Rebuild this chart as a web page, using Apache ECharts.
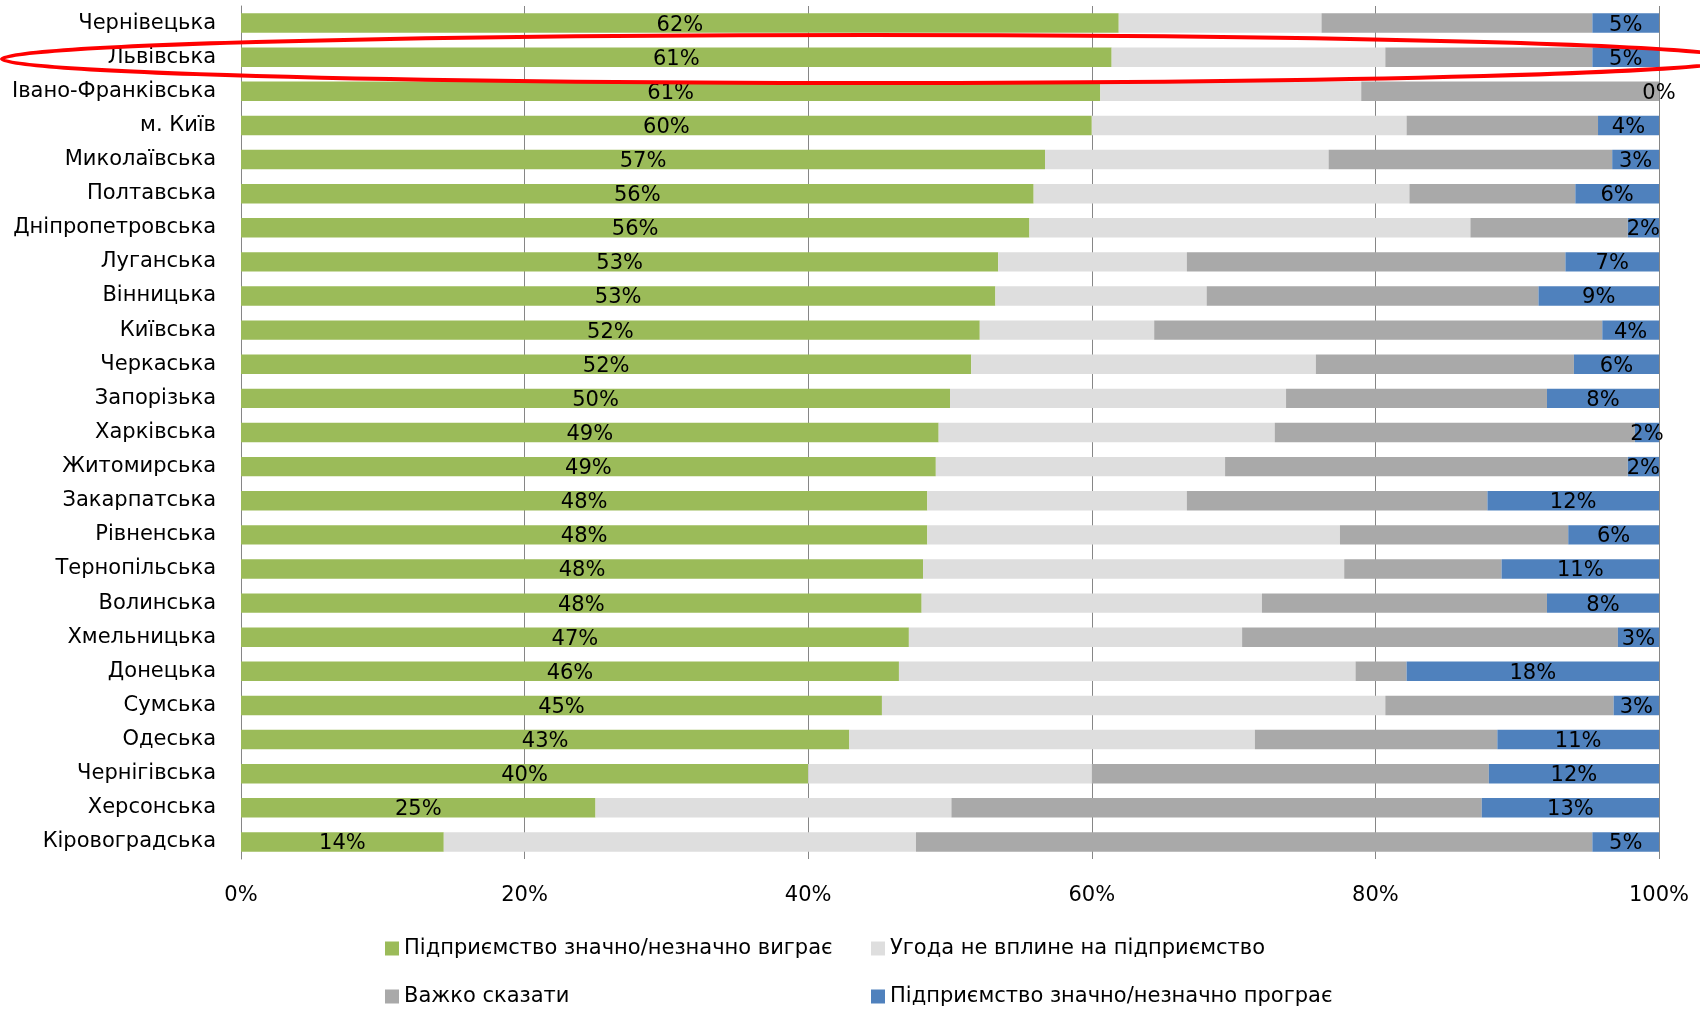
<!DOCTYPE html>
<html>
<head>
<meta charset="utf-8">
<script src="https://cdn.jsdelivr.net/npm/echarts@6/dist/echarts.min.js"></script>
<style>
  html, body { margin: 0; padding: 0; background: #fff; }
  #chart { width: 1700px; height: 1011px; }
</style>
</head>
<body>
<div id="chart"></div>
<script>
const regions = [
  "Чернівецька", "Львівська", "Івано-Франківська", "м. Київ", "Миколаївська",
  "Полтавська", "Дніпропетровська", "Луганська", "Вінницька", "Київська",
  "Черкаська", "Запорізька", "Харківська", "Житомирська", "Закарпатська",
  "Рівненська", "Тернопільська", "Волинська", "Хмельницька", "Донецька",
  "Сумська", "Одеська", "Чернігівська", "Херсонська", "Кіровоградська"
];
// Підприємство значно/незначно виграє
const winValues = [61.9, 61.4, 60.6, 60.0, 56.7, 55.9, 55.6, 53.4, 53.2, 52.1,
  51.5, 50.0, 49.2, 49.0, 48.4, 48.4, 48.1, 48.0, 47.1, 46.4, 45.2, 42.9, 40.0, 25.0, 14.3];
// Угода не вплине на підприємство
const neutralValues = [14.3, 19.3, 18.4, 22.2, 20.0, 26.5, 31.1, 13.3, 14.9, 12.3,
  24.3, 23.7, 23.7, 20.4, 18.3, 29.1, 29.7, 24.0, 23.5, 32.2, 35.5, 28.6, 20.0, 25.1, 33.3];
// Важко сказати
const hardValues = [19.1, 14.6, 21.0, 13.5, 20.0, 11.7, 11.1, 26.7, 23.4, 31.6,
  18.2, 18.4, 25.4, 28.4, 21.2, 16.1, 11.1, 20.1, 26.5, 3.6, 16.1, 17.1, 28.0, 37.4, 47.7];
// Підприємство значно/незначно програє
const loseValues = [4.7, 4.7, 0, 4.3, 3.3, 5.9, 2.2, 6.6, 8.5, 4.0,
  6.0, 7.9, 1.7, 2.2, 12.1, 6.4, 11.1, 7.9, 2.9, 17.8, 3.2, 11.4, 12.0, 12.5, 4.7];
const xTicks = [0, 20, 40, 60, 80, 100];

const seriesNames = [
  "Підприємство значно/незначно виграє",
  "Угода не вплине на підприємство",
  "Важко сказати",
  "Підприємство значно/незначно програє"
];

const font = "DejaVu Sans, sans-serif";
const fontSize = 21;

const chart = echarts.init(document.getElementById("chart"));

const pctLabel = {
  show: true,
  position: "inside",
  color: "#000",
  fontFamily: font,
  fontSize: fontSize,
  offset: [0, 2],
  formatter: (p) => Math.round(p.value) + "%"
};

// одна легенда на кожен пункт, щоб вирівняти у дві колонки
const legendPos = [[385, 938], [871, 938], [385, 986], [871, 986]];
const legends = seriesNames.map((name, i) => ({
  data: [name],
  left: legendPos[i][0],
  top: legendPos[i][1],
  padding: 0,
  itemWidth: 14,
  itemHeight: 14,
  icon: "rect",
  textStyle: { color: "#000", fontFamily: font, fontSize: fontSize }
}));

chart.setOption({
  animation: false,
  color: ["#9BBB59", "#DEDEDE", "#A9A9A9", "#4F81BD"],
  grid: { left: 241, right: 41, top: 6, bottom: 152 },
  xAxis: {
    type: "value",
    min: xTicks[0],
    max: xTicks[xTicks.length - 1],
    interval: 20,
    axisLine: { show: false },
    axisTick: { show: false },
    splitLine: { lineStyle: { color: "#868686", width: 1 } },
    axisLabel: {
      margin: 26,
      color: "#000",
      fontFamily: font,
      fontSize: fontSize,
      formatter: "{value}%"
    }
  },
  yAxis: {
    type: "category",
    inverse: true,
    data: regions,
    axisLine: { show: true, lineStyle: { color: "#868686" } },
    axisTick: { show: false },
    axisLabel: { margin: 25, color: "#000", fontFamily: font, fontSize: fontSize }
  },
  legend: legends,
  series: [
    { name: seriesNames[0], type: "bar", stack: "all", barCategoryGap: "43%", data: winValues, label: pctLabel },
    { name: seriesNames[1], type: "bar", stack: "all", data: neutralValues },
    { name: seriesNames[2], type: "bar", stack: "all", data: hardValues },
    { name: seriesNames[3], type: "bar", stack: "all", data: loseValues, label: pctLabel }
  ],
  // червоний овал навколо Львівської
  graphic: [
    {
      type: "ellipse",
      shape: { cx: 870, cy: 59, rx: 868, ry: 24 },
      style: { fill: null, stroke: "#FF0000", lineWidth: 4 },
      z: 100
    }
  ]
});
</script>
</body>
</html>
